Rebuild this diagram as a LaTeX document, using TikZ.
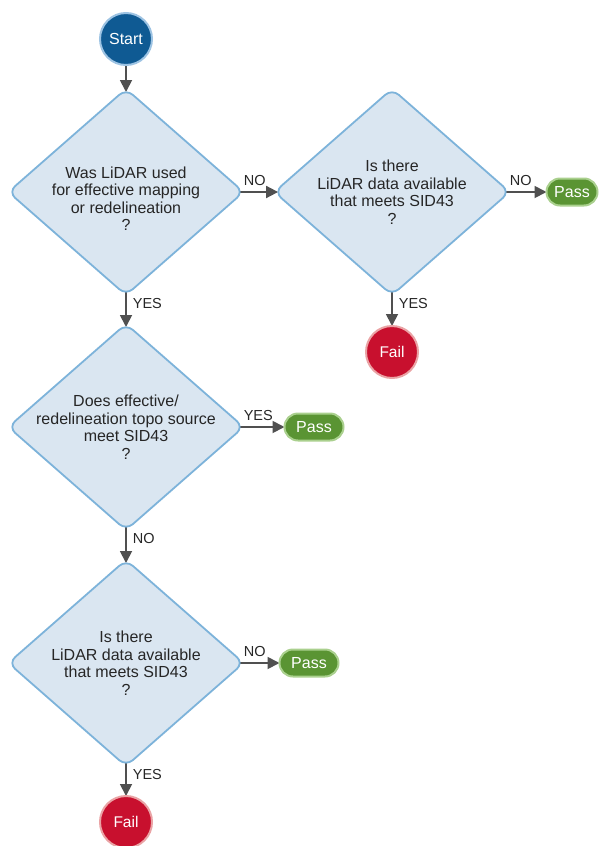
\documentclass[tikz,border=0pt]{standalone}
\usepackage{fontspec}
\setmainfont{Liberation Sans}
\usetikzlibrary{shapes.geometric,shapes.misc,arrows.meta,backgrounds}

\definecolor{startblue}{HTML}{0F5A93}
\definecolor{startrim}{HTML}{9DC3E3}
\definecolor{decfill}{HTML}{DAE6F1}
\definecolor{decline}{HTML}{7DB3DA}
\definecolor{passfill}{HTML}{5A9433}
\definecolor{passrim}{HTML}{AAD08E}
\definecolor{failfill}{HTML}{C8102E}
\definecolor{failrim}{HTML}{EAA3A5}
\definecolor{flowline}{HTML}{505050}
\definecolor{inktext}{HTML}{262626}

\tikzset{
  decision/.style={diamond, draw=decline, line width=1.8pt, fill=decfill,
    rounded corners=9pt, minimum width=236pt, minimum height=207pt, inner sep=0pt},
  dectext/.style={align=center, font=\fontsize{16}{17.5}\selectfont,
    text=inktext, inner sep=0pt},
  terminal/.style={circle, minimum size=52pt, inner sep=0pt, line width=2pt,
    font=\fontsize{16}{18}\selectfont, text=white},
  startnode/.style={terminal, fill=startblue, draw=startrim},
  failnode/.style={terminal, fill=failfill, draw=failrim,
    font=\fontsize{15.5}{18}\selectfont},
  passnode/.style={rounded rectangle, fill=passfill, draw=passrim, line width=2pt,
    minimum width=59pt, minimum height=27pt, inner sep=0pt, text=white,
    font=\fontsize{16}{18}\selectfont},
  flow/.style={draw=flowline, line width=1.8pt, -{Triangle[length=12pt,width=12pt]}},
  % the rounded tips of a decision lie inside its sharp vertices:
  % lines leaving a tip start under the fill, lines arriving reach the curve
  fromside/.style={shorten <=-6pt},
  frombottom/.style={shorten <=-5pt},
  toside/.style={shorten >=-5pt},
  totop/.style={shorten >=-4.4pt},
  toterm/.style={shorten >=-1pt},
  branch/.style={font=\fontsize{14.5}{16}\selectfont, text=inktext, inner sep=0pt},
  sidelabel/.style={branch, pos=0, anchor=base west, xshift=-2pt, yshift=7pt},
  downlabel/.style={branch, pos=0, anchor=north west, xshift=6pt, yshift=-1.5pt},
}

\begin{document}
\begin{tikzpicture}[x=1pt, y=-1pt]
  \useasboundingbox (0,0) rectangle (599,846);

  % terminals and decisions
  \node[startnode] (start) at (126,39) {Start};

  \node[decision] (d1) at (126,192) {};
  \node[dectext, yshift=-6.5pt] (q1) at (d1)
    {Was LiDAR used\\for effective mapping\\or redelineation\\?};

  \node[decision] (d2) at (392,192) {};
  \node[dectext] (q2) at (d2)
    {Is there\\LiDAR data available\\that meets SID43\\?};
  \node[passnode, minimum width=51pt] (pass1) at (572,192) {Pass};
  \node[failnode] (fail1) at (392,352) {Fail};

  \node[decision] (d3) at (126,427) {};
  \node[dectext] (q3) at (d3)
    {Does effective/\\redelineation topo source\\meet SID43\\?};
  \node[passnode] (pass2) at (314,427) {Pass};

  \node[decision] (d4) at (126,663) {};
  \node[dectext] (q4) at (d4)
    {Is there\\LiDAR data available\\that meets SID43\\?};
  \node[passnode] (pass3) at (309,663) {Pass};
  \node[failnode] (fail2) at (126,822) {Fail};

  % connectors, kept behind the shapes
  \begin{scope}[on background layer]
    \draw[flow, totop] (start) -- (d1.north);
    \draw[flow, fromside, toside] (d1.east) --
      node[sidelabel] (l1) {NO} (d2.west);
    \draw[flow, fromside, toterm] (d2.east) --
      node[sidelabel] (l2) {NO} (pass1.west);
    \draw[flow, frombottom, toterm] (d2.south) --
      node[downlabel] (l3) {YES} (fail1.north);
    \draw[flow, frombottom, totop] (d1.south) --
      node[downlabel] (l4) {YES} (d3.north);
    \draw[flow, fromside, toterm] (d3.east) --
      node[sidelabel] (l5) {YES} (pass2.west);
    \draw[flow, frombottom, totop] (d3.south) --
      node[downlabel] (l6) {NO} (d4.north);
    \draw[flow, fromside, toterm] (d4.east) --
      node[sidelabel] (l7) {NO} (pass3.west);
    \draw[flow, frombottom, toterm] (d4.south) --
      node[downlabel] (l8) {YES} (fail2.north);
  \end{scope}
\end{tikzpicture}
\end{document}
